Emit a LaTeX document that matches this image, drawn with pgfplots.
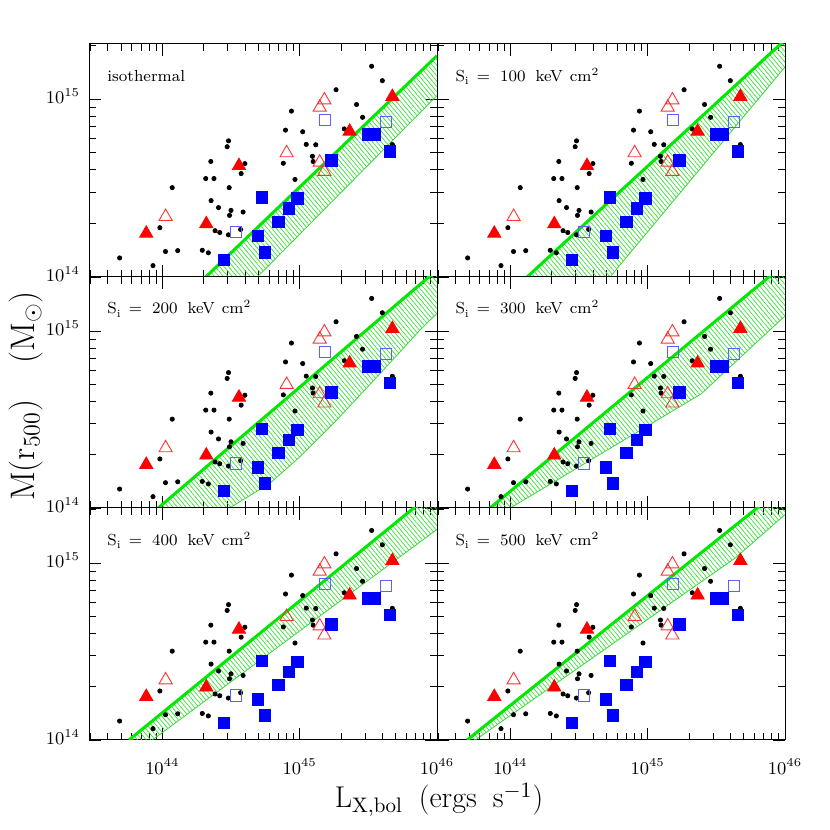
\documentclass[border=0pt]{standalone}
\usepackage{fontspec}
\usepackage{pgfplots}
\pgfplotsset{compat=1.18}
\usepackage{pgfplotstable}
\usetikzlibrary{patterns.meta}

\definecolor{bandgreen}{RGB}{0,232,0}
\definecolor{hatchgreen}{RGB}{55,225,55}
\definecolor{edgegreen}{RGB}{60,215,60}
\definecolor{ltred}{RGB}{255,50,50}
\definecolor{ltblue}{RGB}{95,95,255}

% log10 of L_X,bol and M(r500)
\pgfplotstableread{
x y
43.689 14.107
43.932 14.064
43.982 14.277
44.023 14.143
44.072 14.502
44.112 14.148
44.291 14.150
44.335 14.136
44.316 14.553
44.376 14.553
44.353 14.649
44.355 14.429
44.384 14.260
44.418 14.250
44.481 14.237
44.409 14.390
44.472 14.732
44.482 14.765
44.487 14.502
44.500 14.374
44.489 14.346
44.570 14.267
44.588 14.365
44.574 14.581
44.601 14.637
44.881 14.639
44.897 14.825
44.940 14.932
44.966 14.548
45.022 14.816
45.048 14.745
45.117 14.743
45.093 14.678
45.098 14.649
45.265 15.052
45.325 14.832
45.414 14.969
45.458 14.897
45.524 15.184
45.602 15.103
45.675 14.744
}\dots
\pgfplotstableread{
x y
43.883 14.245
44.320 14.298
44.558 14.625
45.364 14.818
45.675 15.013
}\redfilled
\pgfplotstableread{
x y
44.024 14.339
44.905 14.697
45.180 14.994
45.146 14.953
45.146 14.644
45.180 14.592
}\redopen
\pgfplotstableread{
x y
44.447 14.096
44.697 14.230
44.748 14.139
44.723 14.448
44.845 14.311
44.922 14.386
44.983 14.442
45.231 14.654
45.500 14.800
45.549 14.800
45.658 14.706
}\bluefilled
\pgfplotstableread{
x y
44.536 14.251
45.182 14.882
45.626 14.871
}\blueopen

\newcommand{\drawdata}{%
 \addplot[only marks, mark=*, mark size=1.05pt, black] table[x=x,y=y]{\dots};
 \addplot[only marks, mark=triangle, mark size=3.8pt, ltred, line width=0.45pt] table[x=x,y=y]{\redopen};
 \addplot[only marks, mark=square, mark size=2.8pt, ltblue, line width=0.5pt] table[x=x,y=y]{\blueopen};
 \addplot[only marks, mark=triangle*, mark size=3.8pt, red, fill=red] table[x=x,y=y]{\redfilled};
 \addplot[only marks, mark=square*, mark size=2.85pt, blue, fill=blue] table[x=x,y=y]{\bluefilled};
}
% #1 upper line, #2 lower line, #3 polygon
\newcommand{\band}[3]{%
 \addplot[draw=none, pattern={Lines[angle=-50,distance=1.7pt,line width=0.35pt]}, pattern color=hatchgreen] coordinates {#3};
 \addplot[edgegreen, line width=0.4pt] coordinates {#2};
 \addplot[bandgreen, line width=1.5pt] coordinates {#1};
}

\pgfplotsset{
 panel/.style={
  scale only axis, width=174pt, anchor=south west,
  xmin=43.466, xmax=46, ymin=14,
  xtick={44,45,46}, ytick={14,15},
  xticklabels={}, yticklabels={},
  minor xtick={43.477,43.602,43.699,43.778,43.845,43.903,43.954,44.301,44.477,44.602,44.699,44.778,44.845,44.903,44.954,45.301,45.477,45.602,45.699,45.778,45.845,45.903,45.954},
  minor ytick={14.301,14.477,14.602,14.699,14.778,14.845,14.903,14.954,15.301},
  xtick pos=both, ytick pos=both,
  tick align=inside,
  major tick length=5.8pt, minor tick length=3.3pt,
  axis line style={line width=0.5pt},
  every tick/.append style={black, line width=0.4pt},
  tick label style={font=\fontsize{9}{10}\selectfont},
  yticklabel style={xshift=-1pt, yshift=1.5pt},
  xticklabel style={yshift=-6pt},
 },
}

\newcommand{\plab}[1]{\node[anchor=base west, font=\fontsize{8}{9}\selectfont, inner sep=0pt] at (axis description cs:0.052,0.84) {#1};}
\newcommand{\Slab}[1]{S\raisebox{-1.6pt}{\fontsize{5.5}{6}\selectfont i}\hspace{4pt}=\hspace{5pt}#1\hspace{5pt}keV\hspace{3.5pt}cm\raisebox{3pt}{\fontsize{5.5}{6}\selectfont 2}}

\begin{document}
\begin{tikzpicture}
\path[use as bounding box] (0,0) rectangle (415pt,415pt);

% top left: isothermal
\begin{axis}[panel, at={(44.5pt,276.5pt)}, height=116.5pt, ymax=15.309, yticklabels={$10^{14}$,$10^{15}$}]
\band{(44.316,14)(46,15.243)}{(44.692,14)(46,15.019)}{(44.316,14)(46,15.243)(46,15.019)(44.692,14)}
\drawdata
\plab{\addfontfeatures{LetterSpace=9}isothermal}
\end{axis}

% top right: 100
\begin{axis}[panel, at={(218.5pt,276.5pt)}, height=116.5pt, ymax=15.309]
\band{(44.122,14)(46,15.332)}{(44.726,14)(46,15.18)}{(44.122,14)(46,15.332)(46,15.18)(44.726,14)}
\drawdata
\plab{\Slab{100}}
\end{axis}

% middle left: 200
\begin{axis}[panel, at={(44.5pt,161pt)}, height=115.5pt, ymax=15.305, yticklabels={$10^{14}$,$10^{15}$}]
\band{(43.97,14)(46,15.345)}{(44.49,14)(44.784,14.14)(45.003,14.29)(45.27,14.497)(45.61,14.78)(45.877,15.006)(46,15.10)}{(43.97,14)(46,15.345)(46,15.10)(45.877,15.006)(45.61,14.78)(45.27,14.497)(45.003,14.29)(44.784,14.14)(44.49,14)}
\drawdata
\plab{\Slab{200}}
\end{axis}

% middle right: 300
\begin{axis}[panel, at={(218.5pt,161pt)}, height=115.5pt, ymax=15.305]
\band{(43.853,14)(46,15.381)}{(44.0,14)(45.39,14.645)(46,15.085)}{(43.853,14)(46,15.381)(46,15.085)(45.39,14.645)(44.0,14)}
\drawdata
\plab{\Slab{300}}
\end{axis}

% bottom left: 400
\begin{axis}[panel, at={(44.5pt,45pt)}, height=116pt, ymax=15.311, yticklabels={$10^{14}$,$10^{15}$}, xticklabels={$10^{44}$,$10^{45}$,$10^{46}$}]
\band{(43.757,14)(46,15.418)}{(43.927,14)(46,15.19)}{(43.757,14)(46,15.418)(46,15.19)(43.927,14)}
\drawdata
\plab{\Slab{400}}
\end{axis}

% bottom right: 500
\begin{axis}[panel, at={(218.5pt,45pt)}, height=116pt, ymax=15.311, xticklabels={$10^{44}$,$10^{45}$,$10^{46}$}]
\band{(43.685,14)(46,15.437)}{(43.745,14)(45.637,15.028)(46,15.273)}{(43.685,14)(46,15.437)(46,15.273)(45.637,15.028)(43.745,14)}
\drawdata
\plab{\Slab{500}}
\end{axis}

\node[rotate=90, font=\fontsize{17}{20}\selectfont] at (13pt,217pt) {\addfontfeatures{LetterSpace=28}M(r$_{500}$)\hspace{18pt}(M$_{\odot}$)};
\node[font=\fontsize{15}{18}\selectfont] at (219.5pt,15pt) {\addfontfeatures{LetterSpace=17}L$_{\mathrm{X,bol}}$\hspace{8pt}(ergs\hspace{8pt}s$^{-1}$)};
\end{tikzpicture}
\end{document}
